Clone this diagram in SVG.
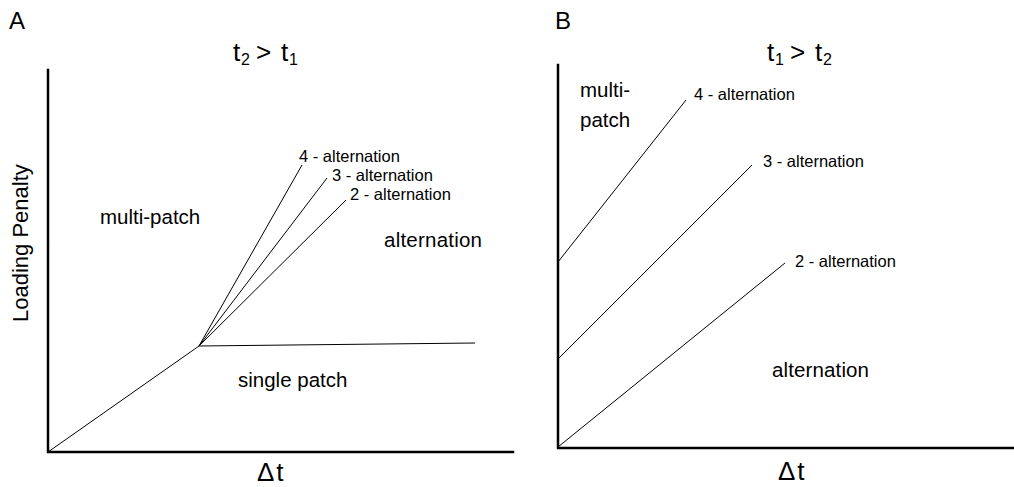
<svg xmlns="http://www.w3.org/2000/svg" width="1014" height="487" viewBox="0 0 1014 487">
<style>
text{font-family:"Liberation Sans",Arial,sans-serif;fill:#000}
.ax{stroke:#000;stroke-width:2.5;fill:none;stroke-linecap:square}
.ln{stroke:#000;stroke-width:1;fill:none}
.sm{font-size:16.5px}
.md{font-size:20.5px}
.lg{font-size:24px}
.tt{font-size:26px}
.sub{font-size:16px}
</style>
<rect width="1014" height="487" fill="#fff"/>
<g id="panelA">
  <text class="lg" x="9" y="29">A</text>
  <g id="titleA">
    <text class="tt" x="233" y="61">t</text><text class="sub" x="241" y="65">2</text>
    <text class="tt" x="256" y="61">&gt;</text>
    <text class="tt" x="281" y="61">t</text><text class="sub" x="289" y="65">1</text>
  </g>
  <g id="axesA">
    <polyline class="ax" points="48,70 48,452 513,452"/>
  </g>
  <text font-size="22" transform="translate(28,322) rotate(-90)">Loading Penalty</text>
  <text font-size="26" x="257" y="481" letter-spacing="2">Δt</text>
  <g id="connectorsA">
    <line class="ln" x1="48" y1="452" x2="199" y2="346"/>
    <line class="ln" x1="199" y1="346" x2="475" y2="343" stroke-width="1.4"/>
    <line class="ln" x1="199" y1="346" x2="302" y2="165"/>
    <line class="ln" x1="199" y1="346" x2="327" y2="178"/>
    <line class="ln" x1="199" y1="346" x2="346" y2="200"/>
  </g>
  <g id="labelsA">
    <text class="sm" x="299" y="162">4 - alternation</text>
    <text class="sm" x="332" y="181">3 - alternation</text>
    <text class="sm" x="350" y="200">2 - alternation</text>
    <text class="md" x="100" y="224">multi-patch</text>
    <text class="md" x="384" y="247" textLength="98">alternation</text>
    <text class="md" x="238" y="387">single patch</text>
  </g>
</g>
<g id="panelB">
  <text class="lg" x="555" y="29">B</text>
  <g id="titleB">
    <text class="tt" x="767" y="61">t</text><text class="sub" x="775" y="65">1</text>
    <text class="tt" x="790" y="61">&gt;</text>
    <text class="tt" x="815" y="61">t</text><text class="sub" x="823" y="65">2</text>
  </g>
  <g id="axesB">
    <polyline class="ax" points="558,65 558,448 1014,448"/>
  </g>
  <text font-size="26" x="778" y="480" letter-spacing="2">Δt</text>
  <g id="connectorsB">
    <line class="ln" x1="558" y1="262" x2="686" y2="100"/>
    <line class="ln" x1="558" y1="359" x2="752" y2="165"/>
    <line class="ln" x1="558" y1="447" x2="785" y2="263"/>
  </g>
  <g id="labelsB">
    <text class="sm" x="694" y="100">4 - alternation</text>
    <text class="sm" x="763" y="167">3 - alternation</text>
    <text class="sm" x="795" y="267">2 - alternation</text>
    <text class="md" x="580" y="97">multi-</text>
    <text class="md" x="580" y="127">patch</text>
    <text class="md" x="772" y="377" textLength="97">alternation</text>
  </g>
</g>
</svg>
